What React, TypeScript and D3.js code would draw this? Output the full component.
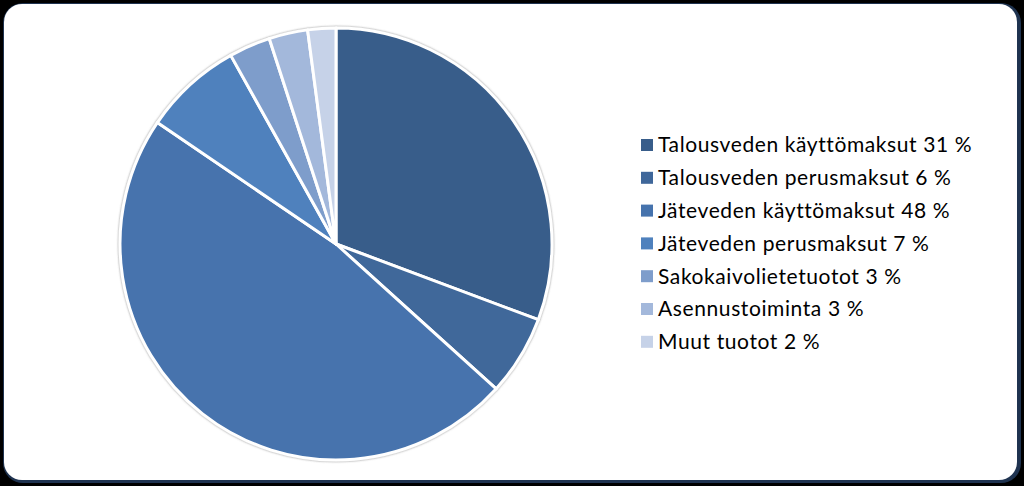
import React from "react";
import * as d3 from "d3";

const categories = [
  "Talousveden käyttömaksut",
  "Talousveden perusmaksut",
  "Jäteveden käyttömaksut",
  "Jäteveden perusmaksut",
  "Sakokaivolietetuotot",
  "Asennustoiminta",
  "Muut tuotot",
];
const values = [30.7, 6.0, 47.8, 7.4, 3.1, 2.9, 2.1];
const percentLabels = ["31 %", "6 %", "48 %", "7 %", "3 %", "3 %", "2 %"];
const colors = ["#385D8A", "#3F679A", "#4673AD", "#4F81BD", "#7E9DCB", "#A3B8DB", "#C6D2E8"];

const W = 1024;
const H = 486;

export default function App() {
  const cx = 336;
  const cy = 244;
  const r = 216;
  const pie = d3.pie<number>().sort(null).value((d) => d)(values);
  const arc = d3.arc<d3.PieArcDatum<number>>().innerRadius(0).outerRadius(r);
  const legendX = 641;
  const legendY0 = 145;
  const legendStep = 32.8;
  return (
    <>
      <style>{"body{margin:0;background:#000}"}</style>
      <svg width={W} height={H} style={{ display: "block" }}>
        <defs>
          <filter id="sh" x="-10%" y="-10%" width="120%" height="120%">
            <feDropShadow dx="0" dy="0" stdDeviation="1.3" floodColor="#777" floodOpacity="0.85" />
          </filter>
        </defs>
        <rect x={0} y={0} width={W} height={H} fill="#000" />
        <rect x={3} y={3} width={W - 6} height={H - 6} rx={20} ry={20} fill="#1F3350" />
        <rect x={4} y={4} width={W - 11} height={H - 10} rx={18} ry={18} fill="#FFFFFF" />
        <g transform={`translate(${cx},${cy})`} filter="url(#sh)">
          {pie.map((p, i) => (
            <path key={i} d={arc(p) || ""} fill={colors[i]} stroke="#FFFFFF" strokeWidth={3} strokeLinejoin="round" />
          ))}
        </g>
        <g fontFamily="Lato, 'Open Sans', sans-serif" fontSize={21} letterSpacing={0.6} fill="#000">
          {categories.map((c, i) => (
            <g key={i} transform={`translate(${legendX},${legendY0 + i * legendStep})`}>
              <rect x={0} y={-6} width={12} height={12} fill={colors[i]} />
              <text x={17} y={0} dy="0.35em">{`${c} ${percentLabels[i]}`}</text>
            </g>
          ))}
        </g>
      </svg>
    </>
  );
}
